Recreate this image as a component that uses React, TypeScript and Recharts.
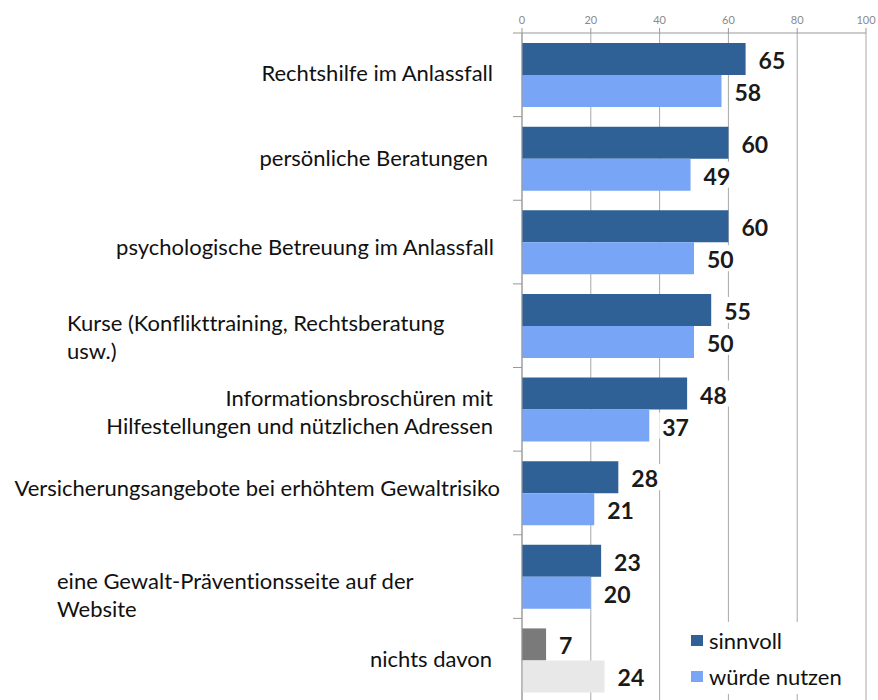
import React from 'react';
import { Bar, BarChart, CartesianGrid, Cell, LabelList, Legend, XAxis, YAxis } from 'recharts';

const categories = [
  'Rechtshilfe im Anlassfall',
  'persönliche Beratungen',
  'psychologische Betreuung im Anlassfall',
  'Kurse (Konflikttraining, Rechtsberatung usw.)',
  'Informationsbroschüren mit Hilfestellungen und nützlichen Adressen',
  'Versicherungsangebote bei erhöhtem Gewaltrisiko',
  'eine Gewalt-Präventionsseite auf der Website',
  'nichts davon',
];

// how each category label is broken into lines
const tickLines = [
  ['Rechtshilfe im Anlassfall'],
  ['persönliche Beratungen'],
  ['psychologische Betreuung im Anlassfall'],
  ['Kurse (Konflikttraining, Rechtsberatung', 'usw.)'],
  ['Informationsbroschüren mit', 'Hilfestellungen und nützlichen Adressen'],
  ['Versicherungsangebote bei erhöhtem Gewaltrisiko'],
  ['eine Gewalt-Präventionsseite auf der', 'Website'],
  ['nichts davon'],
];

const sinnvoll = [65, 60, 60, 55, 48, 28, 23, 7];
const wuerdeNutzen = [58, 49, 50, 50, 37, 21, 20, 24];
const xTicks = [0, 20, 40, 60, 80, 100];

const data = categories.map((name, i) => ({
  name,
  sinnvoll: sinnvoll[i],
  wuerde: wuerdeNutzen[i],
}));

const DARK = '#2f6096';
const LIGHT = '#79a5f7';
const GREY_DARK = '#7a7a7a';
const GREY_LIGHT = '#e8e8e8';
const FONT = 'Lato, "Open Sans", sans-serif';

const W = 878;
const H = 710;
const MARGIN = { top: 0, right: 12, bottom: 8, left: 0 };
const Y_W = 522;
const X_H = 33;
const PLOT_LEFT = MARGIN.left + Y_W;
const BAND = (H - MARGIN.top - MARGIN.bottom - X_H) / categories.length;

// text placement of the category labels (anchor, x, vertical shift)
const tickLayout = [
  { anchor: 'end', x: 493, dy: -2 },
  { anchor: 'end', x: 488, dy: -1 },
  { anchor: 'end', x: 494, dy: 4 },
  { anchor: 'start', x: 67, dy: 11 },
  { anchor: 'end', x: 493, dy: 2 },
  { anchor: 'end', x: 500, dy: -5 },
  { anchor: 'start', x: 57, dy: 18 },
  { anchor: 'end', x: 492, dy: -2 },
];

const CategoryTick = (props: any) => {
  const { y, index } = props;
  const lines = tickLines[index] || [props.payload.value];
  const lay = tickLayout[index];
  const lh = 28;
  const top = y + lay.dy - ((lines.length - 1) * lh) / 2;
  const yb = y - BAND / 2;
  return (
    <g>
      <line x1={PLOT_LEFT - 9} x2={PLOT_LEFT} y1={yb} y2={yb} stroke="#999" />
      {lines.map((l, i) => (
        <text
          key={i}
          x={lay.x}
          y={top + i * lh}
          textAnchor={lay.anchor as any}
          dominantBaseline="central"
          fontFamily={FONT}
          fontSize={22}
          fill="#111"
          style={{ fontVariantLigatures: 'none' }}
        >
          {l}
        </text>
      ))}
    </g>
  );
};

const ValueLabel = (props: any) => {
  const { x, y, width, height, value } = props;
  const tx = x + width + 13;
  const cy = y + height / 2;
  const tw = String(value).length * 13 + 4;
  return (
    <g>
      <rect x={tx - 3} y={cy - 13} width={tw + 4} height={26} fill="#fff" />
      <text
        x={tx}
        y={cy + 1}
        dominantBaseline="central"
        fontFamily={FONT}
        fontWeight={700}
        fontSize={23}
        fill="#1a1a1a"
      >
        {value}
      </text>
    </g>
  );
};

const LegendBox = () => (
  <div style={{ background: '#fff', width: 180, height: 72, fontFamily: FONT, fontSize: 22, color: '#111' }}>
    {[
      { label: 'sinnvoll', color: DARK },
      { label: 'würde nutzen', color: LIGHT },
    ].map((it, i) => (
      <div key={i} style={{ position: 'absolute', left: 11, top: 5 + i * 36, display: 'flex', alignItems: 'center', height: 26 }}>
        <span style={{ display: 'inline-block', width: 12, height: 11, background: it.color, marginRight: 6 }} />
        <span>{it.label}</span>
      </div>
    ))}
  </div>
);

const App: React.FC = () => {
  return (
    <div style={{ position: 'absolute', left: 0, top: 0, width: W, height: 700, overflow: 'hidden', background: '#fff' }}>
      <BarChart
        width={W}
        height={H}
        data={data}
        layout="vertical"
        margin={MARGIN}
        barCategoryGap="12%"
        barGap={0}
      >
        <CartesianGrid horizontal={false} vertical stroke="#a8a8a8" />
        <XAxis
          type="number"
          orientation="top"
          domain={[0, 100]}
          ticks={xTicks}
          height={X_H}
          tickSize={5}
          tickMargin={4}
          axisLine={{ stroke: '#999' }}
          tickLine={{ stroke: '#999' }}
          tick={{ fontSize: 11, fill: '#8a8a8a', fontFamily: FONT }}
          interval={0}
        />
        <YAxis
          type="category"
          dataKey="name"
          width={Y_W}
          axisLine={{ stroke: '#999' }}
          tickLine={false}
          tick={<CategoryTick />}
          interval={0}
        />
        <Legend
          layout="vertical"
          align="center"
          verticalAlign="middle"
          wrapperStyle={{ position: 'absolute', left: 680, top: 622, width: 180, height: 72 }}
          content={<LegendBox />}
        />
        <Bar dataKey="sinnvoll" name="sinnvoll" fill={DARK} isAnimationActive={false}>
          {data.map((_, i) => (
            <Cell key={`s-${i}`} fill={i === data.length - 1 ? GREY_DARK : DARK} />
          ))}
          <LabelList dataKey="sinnvoll" content={<ValueLabel />} />
        </Bar>
        <Bar dataKey="wuerde" name="würde nutzen" fill={LIGHT} isAnimationActive={false}>
          {data.map((_, i) => (
            <Cell key={`w-${i}`} fill={i === data.length - 1 ? GREY_LIGHT : LIGHT} />
          ))}
          <LabelList dataKey="wuerde" content={<ValueLabel />} />
        </Bar>
      </BarChart>
    </div>
  );
};

export default App;
